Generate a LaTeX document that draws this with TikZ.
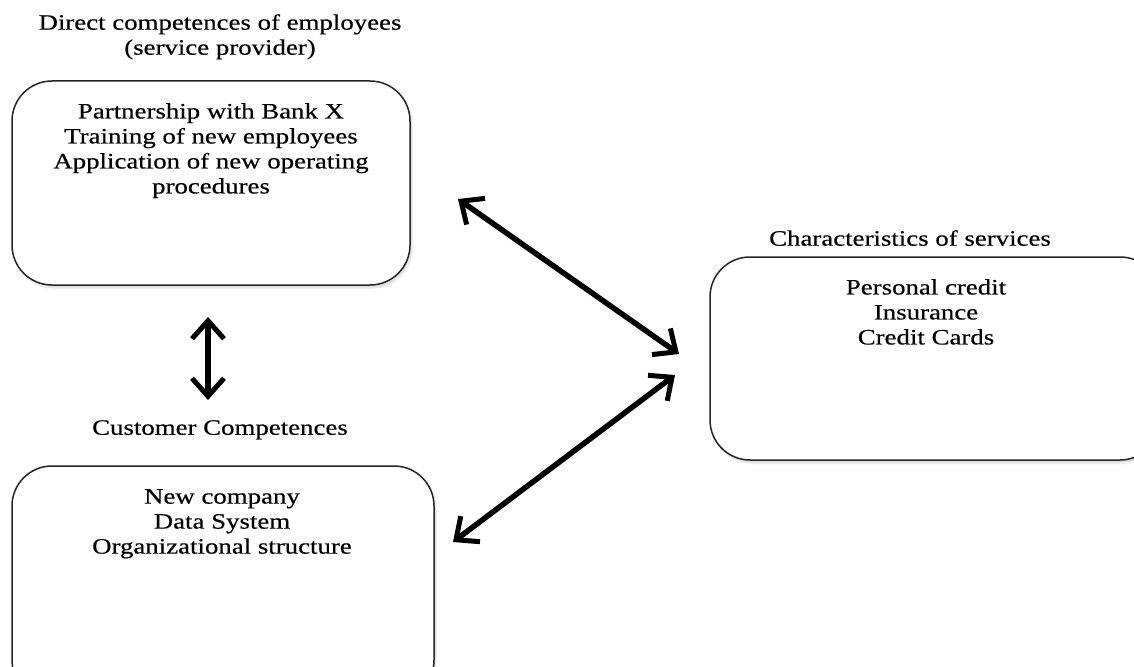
\documentclass[tikz,border=0pt]{standalone}
\usepackage{fontspec}
\setmainfont{Liberation Serif}[FakeStretch=1.22,FakeBold=0.4]
\usetikzlibrary{arrows.meta,shadows.blur}
\begin{document}
\begin{tikzpicture}[x=1pt,y=-1pt,
  box/.style={draw=black!85, line width=1.5pt, rounded corners=40pt,
    blur shadow={shadow blur steps=6, shadow xshift=2pt, shadow yshift=-3pt, shadow opacity=15}, fill=white},
  txt/.style={font=\fontsize{22}{25}\selectfont, align=center, inner sep=0pt, anchor=north},
  biarrow/.style={line width=5.5pt, line cap=round,
    {Straight Barb[length=18pt,width=32pt,line width=5pt]}-{Straight Barb[length=18pt,width=32pt,line width=5pt]}}
]
\useasboundingbox (0,0) rectangle (1134,666);
% boxes
\draw[box] (12,81) rectangle (410,285);
\draw[box] (710,257) rectangle (1160,460);
\draw[box] (12,466) rectangle (434,700);
% titles
\node[txt] (t1) at (220,14) {Direct competences of employees\\(service provider)};
\node[txt] (t2) at (910,230) {Characteristics of services};
\node[txt] (t3) at (220,420) {Customer Competences};
% contents
\node[txt] (c1) at (211,103) {Partnership with Bank X\\Training of new employees\\Application of new operating\\procedures};
\node[txt] (c2) at (926,279) {Personal credit\\Insurance\\Credit Cards};
\node[txt] (c3) at (222,489) {New company\\Data System\\Organizational structure};
% arrows
\coordinate (a1s) at (458,199);
\coordinate (a1e) at (679,354);
\coordinate (a2s) at (453,542);
\coordinate (a2e) at (675,375);
\coordinate (a3s) at (208,317);
\coordinate (a3e) at (208,400);
\draw[biarrow] (a1s) -- (a1e);
\draw[biarrow] (a2s) -- (a2e);
\draw[biarrow] (a3s) -- (a3e);
\end{tikzpicture}
\end{document}
